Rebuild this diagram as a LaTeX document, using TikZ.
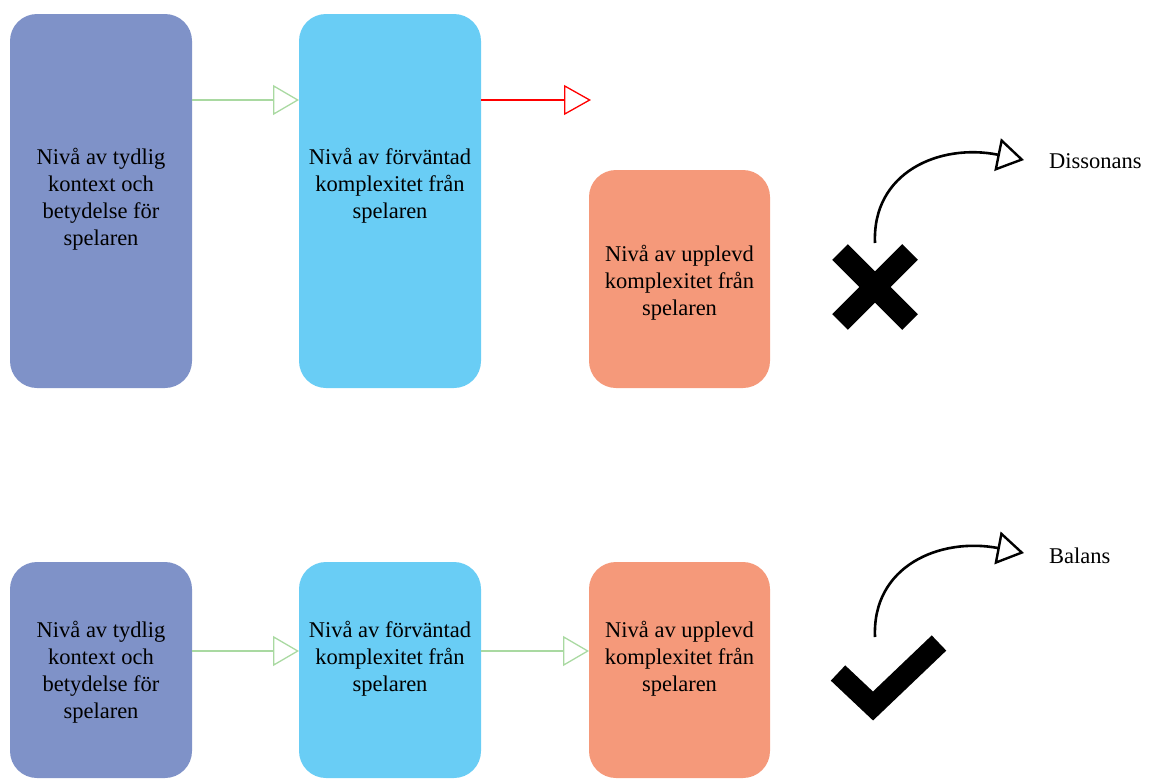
\documentclass[tikz,border=0pt]{standalone}
\usepackage{fontspec}
\setmainfont{Liberation Serif}
\usetikzlibrary{arrows.meta}
\definecolor{cpurple}{HTML}{7F92C8}
\definecolor{cblue}{HTML}{69CDF5}
\definecolor{csalmon}{HTML}{F5997A}
\definecolor{cgreen}{HTML}{A9D9A1}
\definecolor{cred}{HTML}{FF0000}
\tikzset{
  box/.style={draw=none, rounded corners=27pt, minimum width=182pt, inner sep=0pt, outer sep=0pt},
  lbl/.style={align=center, font=\fontsize{22.5}{27}\selectfont, inner sep=0pt},
  greenarrow/.style={draw=cgreen, line width=2pt, -{Triangle[open, length=26pt, width=30pt, line width'=1.3pt]}},
  redarrow/.style={draw=cred, line width=2pt, -{Triangle[open, length=27pt, width=30pt, line width'=1.3pt]}},
  curvearrow/.style={draw=black, line width=2.6pt, -{Triangle[open, length=27pt, width=33pt, line width'=2.4pt]}},
  mark/.style={}
}
\begin{document}
\begin{tikzpicture}[x=1pt, y=-1pt]
\useasboundingbox (0,0) rectangle (1150,779);
% top row
\node[box, fill=cpurple, minimum height=374pt] (a1) at (101,201) {};
\node[box, fill=cblue, minimum height=374pt] (b1) at (390,201) {};
\node[box, fill=csalmon, minimum width=181pt, minimum height=218pt] (c1) at (679.5,279) {};
\node[lbl] (ta1) at (101,199) {Nivå av tydlig\\kontext och\\betydelse för\\spelaren};
\node[lbl] (tb1) at (390,186) {Nivå av förväntad\\komplexitet från\\spelaren};
\node[lbl] (tc1) at (679.5,283) {Nivå av upplevd\\komplexitet från\\spelaren};
\coordinate (r1) at (591,100);
\draw[greenarrow] (a1.east |- 0,100) -- (b1.west |- 0,100);
\draw[redarrow] (b1.east |- 0,100) -- (r1);
% cross
\draw[line width=22pt, line cap=butt] (840,252) -- (910,322);
\draw[line width=22pt, line cap=butt] (910,252) -- (840,322);
\coordinate (s1) at (875,243);
\coordinate (e1) at (1024,160);
\draw[curvearrow] (s1) .. controls (872,172) and (940,143) .. (e1);
\node[lbl, anchor=west] (d1) at (1049,161) {Dissonans};
% bottom row
\node[box, fill=cpurple, minimum height=216pt] (a2) at (101,670) {};
\node[box, fill=cblue, minimum height=216pt] (b2) at (390,670) {};
\node[box, fill=csalmon, minimum width=181pt, minimum height=216pt] (c2) at (679.5,670) {};
\node[lbl] (ta2) at (101,672) {Nivå av tydlig\\kontext och\\betydelse för\\spelaren};
\node[lbl] (tb2) at (390,659) {Nivå av förväntad\\komplexitet från\\spelaren};
\node[lbl] (tc2) at (679.5,659) {Nivå av upplevd\\komplexitet från\\spelaren};
\draw[greenarrow] (a2.east |- 0,651) -- (b2.west |- 0,651);
\draw[greenarrow] (b2.east |- 0,651) -- (c2.west |- 0,651);
% check
\draw[line width=21pt, line cap=butt, line join=miter] (838,673) -- (873,706) -- (939,643);
\coordinate (s2) at (875,637);
\coordinate (e2) at (1024,553);
\draw[curvearrow] (s2) .. controls (872,566) and (940,537) .. (e2);
\node[lbl, anchor=west] (d2) at (1049,556) {Balans};
\end{tikzpicture}
\end{document}
